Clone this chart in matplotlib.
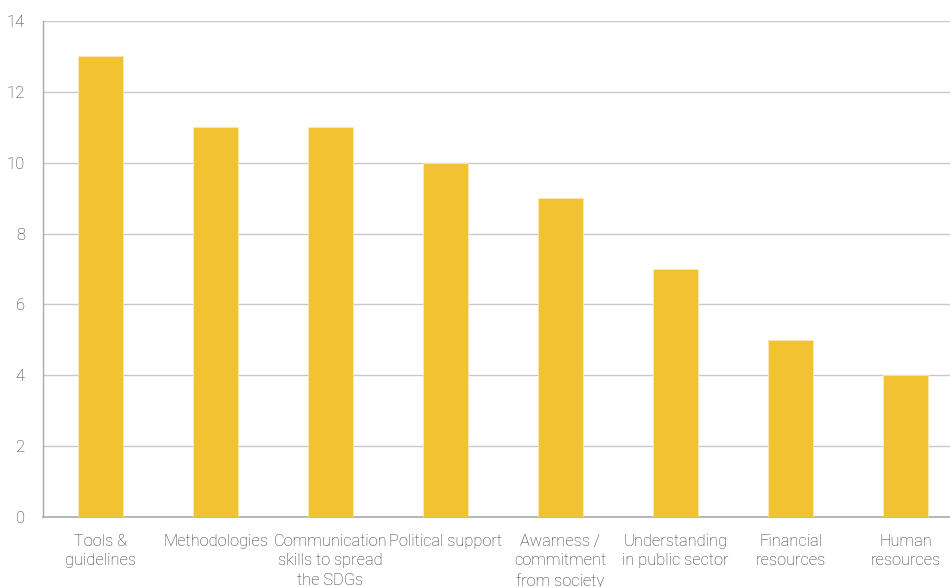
import matplotlib.pyplot as plt

categories = ['Tools &\nguidelines', 'Methodologies', 'Communication\nskills to spread\nthe SDGs',
              'Political support', 'Awarness /\ncommitment\nfrom society',
              'Understanding\nin public sector', 'Financial\nresources', 'Human\nresources']
values = [13, 11, 11, 10, 9, 7, 5, 4]
yticks = [0, 2, 4, 6, 8, 10, 12, 14]

plt.rcParams['font.family'] = ['Roboto', 'DejaVu Sans']

fig = plt.figure(figsize=(9.5, 5.87), dpi=100)
ax = fig.add_axes([43/950, 1-517/587, 920/950, 496/587])

x = list(range(len(categories)))
ax.bar(x, values, width=0.39, color='#F1C232', edgecolor='#FBE9B5', linewidth=0.6, zorder=3)

ax.set_xlim(-0.5, len(categories)-0.5)
ax.set_ylim(0, 14)
ax.set_yticks(yticks)
ax.yaxis.grid(True, color='#C8C8C8', linewidth=1.0, zorder=0)
ax.set_axisbelow(True)

ax.set_xticks(x)
ax.set_xticklabels(categories, fontsize=11.8, fontweight='light', color='#333333', linespacing=1.38)
for lab in ax.get_yticklabels():
    lab.set_fontsize(12)
    lab.set_fontweight('light')
    lab.set_color('#333333')
ax.tick_params(axis='both', length=0)
ax.tick_params(axis='x', pad=12)
ax.tick_params(axis='y', pad=13)

for s in ['top', 'right']:
    ax.spines[s].set_visible(False)
ax.spines['left'].set_color('#AAAAAA')
ax.spines['bottom'].set_color('#AAAAAA')
ax.spines['left'].set_linewidth(1.0)
ax.spines['bottom'].set_linewidth(1.2)

fig.savefig('out.png', dpi=100)
